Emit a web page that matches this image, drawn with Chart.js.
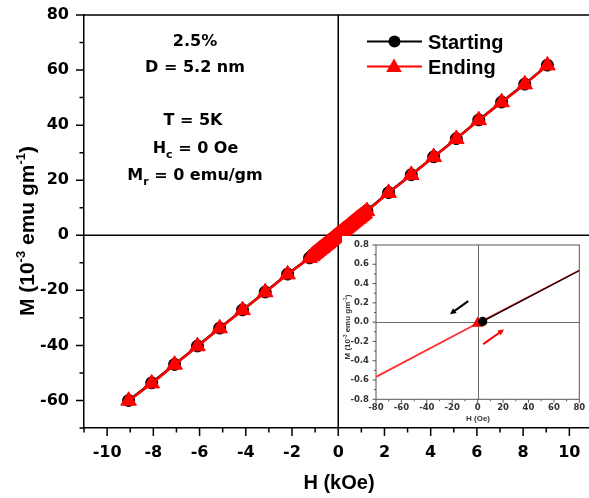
<!DOCTYPE html>
<html>
<head>
<meta charset="utf-8">
<script src="https://cdn.jsdelivr.net/npm/chart.js@4.4.0/dist/chart.umd.min.js"></script>
<style>
  html, body { margin: 0; padding: 0; background: #fff; overflow: hidden; }
  #wrap { position: relative; width: 589px; height: 498px; }
  #main { position: absolute; left: 0; top: 0; }
  #inset { position: absolute; left: 342px; top: 236px; background: #fff; }
</style>
</head>
<body>
<div id="wrap">
  <canvas id="main" width="589" height="498"></canvas>
  <canvas id="inset" width="247" height="190"></canvas>
</div>
<script>
// M-H loop at 5 K: applied field (kOe) and magnetisation (10^-3 emu/g)
const fieldKOe = [-9.07, -8.07, -7.08, -6.09, -5.13, -4.14, -3.16, -2.19, -1.24,
  -1.15, -1.10, -1.05, -1.00, -0.95, -0.90, -0.85, -0.80, -0.75, -0.70, -0.65, -0.60,
  -0.55, -0.50, -0.45, -0.40, -0.35, -0.30, -0.25, -0.20, -0.15, -0.10, -0.05, 0.00,
  0.05, 0.10, 0.15, 0.20, 0.25, 0.30, 0.35, 0.40, 0.45, 0.50, 0.55, 0.60,
  0.65, 0.70, 0.75, 0.80, 0.85, 0.90, 0.95, 1.00, 1.05, 1.10, 1.15,
  1.24, 2.18, 3.16, 4.13, 5.11, 6.08, 7.07, 8.07, 9.05];
const startingM = [-60.0, -53.6, -46.9, -40.2, -33.7, -27.1, -20.6, -14.1, -8.2,
  -7.5, -7.2, -6.8, -6.5, -6.2, -5.8, -5.5, -5.1, -4.8, -4.5, -4.1, -3.8,
  -3.4, -3.1, -2.8, -2.4, -2.1, -1.7, -1.4, -1.0, -0.7, -0.4, 0.0, 0.3,
  0.6, 1.0, 1.3, 1.7, 2.0, 2.3, 2.7, 3.0, 3.4, 3.7, 4.0, 4.4,
  4.7, 5.1, 5.4, 5.8, 6.1, 6.4, 6.8, 7.1, 7.4, 7.8, 8.1,
  8.9, 15.5, 22.0, 28.5, 35.1, 41.9, 48.4, 54.9, 61.8];
const endingM = [-60.1, -53.8, -47.0, -40.3, -33.8, -27.2, -20.7, -14.2, -8.3,
  -7.6, -7.3, -6.9, -6.6, -6.3, -5.9, -5.6, -5.2, -4.9, -4.6, -4.2, -3.9,
  -3.5, -3.2, -2.9, -2.5, -2.2, -1.8, -1.5, -1.1, -0.8, -0.5, -0.1, 0.2,
  0.5, 0.9, 1.2, 1.6, 1.9, 2.2, 2.6, 2.9, 3.3, 3.6, 3.9, 4.3,
  4.6, 5.0, 5.3, 5.7, 6.0, 6.3, 6.7, 7.0, 7.3, 7.7, 8.0,
  8.8, 15.4, 21.9, 28.4, 35.0, 41.8, 48.3, 54.8, 61.7];

// Low-field detail (Oe, 10^-3 emu/g)
const insetStartH = [4, 80];
const insetStartM = [0.008, 0.535];
const insetEndH = [-80, 0, 80];
const insetEndM = [-0.567, -0.012, 0.535];
// sweep-direction arrows: [fromH, fromM, toH, toM]
const arrowDown = [-7.4, 0.218, -21.8, 0.083];
const arrowUp = [4.4, -0.228, 20.7, -0.076];

// axis ticks
const xMajor = [-10, -8, -6, -4, -2, 0, 2, 4, 6, 8, 10];
const xMinor = [-11, -9, -7, -5, -3, -1, 1, 3, 5, 7, 9];
const yMajor = [-60, -40, -20, 0, 20, 40, 60, 80];
const yMinor = [-70, -50, -30, -10, 10, 30, 50, 70];
const insetXMajor = [-80, -60, -40, -20, 0, 20, 40, 60, 80];
const insetXMinor = [-70, -50, -30, -10, 10, 30, 50, 70];
const insetYMajor = [-0.8, -0.6, -0.4, -0.2, 0, 0.2, 0.4, 0.6, 0.8];
const insetYMinor = [-0.7, -0.5, -0.3, -0.1, 0.1, 0.3, 0.5, 0.7];

const seriesNames = ['Starting', 'Ending'];
const sampleNotes = ['2.5%', 'D = 5.2 nm'];

const toPoints = (xs, ys) => xs.map((x, i) => ({ x, y: ys[i] }));

const ARIAL = '"Liberation Sans", Arial, sans-serif';
const WIDE = '"DejaVu Sans", sans-serif';

// scale hooks: fixed tick list, fixed box size, no label overhang padding
function fixedTicks(values) {
  return s => { s.ticks = values.map(v => ({ value: v })); };
}
function fixedSize(size) {
  return s => {
    if (s.isHorizontal()) s.height = size; else s.width = size;
    s.paddingLeft = 0; s.paddingRight = 0; s.paddingTop = 0; s.paddingBottom = 0;
  };
}

function drawTickMarks(ctx, scale, values, len, color, width) {
  ctx.save();
  ctx.strokeStyle = color;
  ctx.lineWidth = width;
  ctx.beginPath();
  values.forEach(v => {
    const p = scale.getPixelForValue(v);
    if (scale.isHorizontal()) {
      ctx.moveTo(p, scale.top);
      ctx.lineTo(p, scale.top + len);
    } else {
      ctx.moveTo(scale.right, p);
      ctx.lineTo(scale.right - len, p);
    }
  });
  ctx.stroke();
  ctx.restore();
}

// text made of pieces: [text, size, shift] where shift moves the baseline (negative = up)
function pieceWidth(ctx, pieces, family) {
  let w = 0;
  pieces.forEach(([t, s]) => { ctx.font = 'bold ' + s + 'px ' + family; w += ctx.measureText(t).width; });
  return w;
}
function drawPieces(ctx, pieces, family, x, y) {
  let cx = x;
  pieces.forEach(([t, s, dy]) => {
    ctx.font = 'bold ' + s + 'px ' + family;
    ctx.fillText(t, cx, y + (dy || 0));
    cx += ctx.measureText(t).width;
  });
}
function drawCentered(ctx, pieces, family, cx, y) {
  const w = pieceWidth(ctx, pieces, family);
  drawPieces(ctx, pieces, family, cx - w / 2, y);
}

function triangle(ctx, x, y, r) {
  // same geometry as the library's 'triangle' point style
  ctx.beginPath();
  let rad = 0;
  ctx.moveTo(x + Math.sin(rad) * r, y - Math.cos(rad) * r);
  rad += 2 * Math.PI / 3;
  ctx.lineTo(x + Math.sin(rad) * r, y - Math.cos(rad) * r);
  rad += 2 * Math.PI / 3;
  ctx.lineTo(x + Math.sin(rad) * r, y - Math.cos(rad) * r);
  ctx.closePath();
}

const mainDecor = {
  id: 'mainDecor',
  beforeDatasetsDraw(chart) {
    const { ctx, chartArea: a, scales: { x, y } } = chart;
    ctx.save();
    ctx.strokeStyle = '#000';
    ctx.lineWidth = 1.5;
    ctx.beginPath();
    const x0 = x.getPixelForValue(0), y0 = y.getPixelForValue(0);
    ctx.moveTo(x0, a.top); ctx.lineTo(x0, a.bottom);
    ctx.moveTo(a.left, y0); ctx.lineTo(a.right, y0);
    // top frame
    ctx.moveTo(a.left - 0.75, a.top); ctx.lineTo(a.right, a.top);
    ctx.stroke();
    ctx.restore();
  },
  afterDraw(chart) {
    const { ctx, scales: { x, y } } = chart;
    drawTickMarks(ctx, x, xMajor, 8, '#000', 1.5);
    drawTickMarks(ctx, x, xMinor, 4.5, '#000', 1.5);
    drawTickMarks(ctx, y, yMajor, 8, '#000', 1.5);
    drawTickMarks(ctx, y, yMinor, 4.5, '#000', 1.5);

    ctx.save();
    ctx.fillStyle = '#000';
    ctx.textBaseline = 'alphabetic';
    ctx.textAlign = 'left';

    // axis titles
    drawCentered(ctx, [['H (kOe)', 20]], ARIAL, 339, 488.5);
    ctx.save();
    ctx.translate(33.5, 231);
    ctx.rotate(-Math.PI / 2);
    drawCentered(ctx, [['M (10', 21], ['-3', 13, -9], [' emu gm', 21], ['-1', 13, -9], [')', 21]], ARIAL, 0, 0);
    ctx.restore();

    // sample notes
    drawCentered(ctx, [[sampleNotes[0], 16]], WIDE, 195, 45.5);
    drawCentered(ctx, [[sampleNotes[1], 16]], WIDE, 195, 71.5);
    drawCentered(ctx, [['T = 5K', 16]], WIDE, 193, 125);
    drawCentered(ctx, [['H', 16], ['c', 11, 5], [' = 0 Oe', 16]], WIDE, 195.5, 152.5);
    drawCentered(ctx, [['M', 16], ['r', 11, 5], [' = 0 emu/gm', 16]], WIDE, 195, 180);

    // legend
    const ds = chart.data.datasets;
    const sDs = ds.find(d => d.label === seriesNames[0]);
    const eDs = ds.find(d => d.label === seriesNames[1]);
    ctx.lineWidth = 2;
    ctx.strokeStyle = sDs.borderColor;
    ctx.beginPath(); ctx.moveTo(367, 41.5); ctx.lineTo(422, 41.5); ctx.stroke();
    ctx.fillStyle = sDs.pointBackgroundColor;
    ctx.beginPath(); ctx.arc(394.5, 41.5, sDs.pointRadius, 0, Math.PI * 2); ctx.fill();
    ctx.strokeStyle = eDs.borderColor;
    ctx.beginPath(); ctx.moveTo(367, 66.5); ctx.lineTo(422, 66.5); ctx.stroke();
    ctx.fillStyle = eDs.pointBackgroundColor;
    triangle(ctx, 394, 67.5, eDs.pointRadius); ctx.fill();
    ctx.fillStyle = '#000';
    ctx.font = 'bold 20px ' + ARIAL;
    ctx.fillText(seriesNames[0], 428, 48.5);
    ctx.fillText(seriesNames[1], 428, 74);
    ctx.restore();
  }
};

new Chart(document.getElementById('main'), {
  type: 'scatter',
  data: {
    datasets: [
      {
        label: seriesNames[1],
        data: toPoints(fieldKOe, endingM),
        showLine: true,
        borderColor: '#ff0000',
        borderWidth: 2.5,
        pointStyle: 'triangle',
        pointRadius: 9,
        pointBackgroundColor: '#ff0000',
        pointBorderColor: '#ff0000',
        pointBorderWidth: 1,
        order: 0
      },
      {
        label: seriesNames[0],
        data: toPoints(fieldKOe, startingM),
        showLine: true,
        borderColor: '#000000',
        borderWidth: 2.5,
        pointStyle: 'circle',
        pointRadius: 6,
        pointBackgroundColor: '#000000',
        pointBorderColor: '#000000',
        pointBorderWidth: 1,
        order: 1
      }
    ]
  },
  options: {
    responsive: false,
    animation: false,
    events: [],
    layout: { autoPadding: false, padding: { top: 15, right: 0, left: 0, bottom: 0 } },
    plugins: { legend: { display: false }, tooltip: { enabled: false } },
    scales: {
      x: {
        type: 'linear', min: -11, max: 10.85,
        afterBuildTicks: fixedTicks(xMajor),
        afterFit: fixedSize(70),
        grid: { display: false, drawTicks: false },
        border: { display: true, color: '#000', width: 1.5 },
        ticks: {
          autoSkip: false, maxRotation: 0, padding: 15, color: '#000',
          font: { family: WIDE, weight: 'bold', size: 16 }
        }
      },
      y: {
        type: 'linear', min: -70, max: 80,
        afterBuildTicks: fixedTicks(yMajor),
        afterFit: fixedSize(84),
        grid: { display: false, drawTicks: false },
        border: { display: true, color: '#000', width: 1.5 },
        ticks: {
          autoSkip: false, padding: 15, color: '#000',
          font: { family: WIDE, weight: 'bold', size: 16 }
        }
      }
    }
  },
  plugins: [mainDecor]
});

function arrow(ctx, xs, ys, spec, color) {
  const x1 = xs.getPixelForValue(spec[0]), y1 = ys.getPixelForValue(spec[1]);
  const x2 = xs.getPixelForValue(spec[2]), y2 = ys.getPixelForValue(spec[3]);
  const ang = Math.atan2(y2 - y1, x2 - x1);
  const hl = 6, hw = 3;
  ctx.save();
  ctx.strokeStyle = color; ctx.fillStyle = color; ctx.lineWidth = 2;
  ctx.beginPath();
  ctx.moveTo(x1, y1);
  ctx.lineTo(x2 - Math.cos(ang) * hl * 0.8, y2 - Math.sin(ang) * hl * 0.8);
  ctx.stroke();
  ctx.beginPath();
  ctx.moveTo(x2, y2);
  ctx.lineTo(x2 - Math.cos(ang) * hl + Math.sin(ang) * hw, y2 - Math.sin(ang) * hl - Math.cos(ang) * hw);
  ctx.lineTo(x2 - Math.cos(ang) * hl - Math.sin(ang) * hw, y2 - Math.sin(ang) * hl + Math.cos(ang) * hw);
  ctx.closePath();
  ctx.fill();
  ctx.restore();
}

const insetDecor = {
  id: 'insetDecor',
  beforeDatasetsDraw(chart) {
    const { ctx, chartArea: a, scales: { x, y } } = chart;
    ctx.save();
    ctx.strokeStyle = '#6a6a6a';
    ctx.lineWidth = 1;
    ctx.beginPath();
    const x0 = Math.round(x.getPixelForValue(0)) + 0.5, y0 = Math.round(y.getPixelForValue(0)) + 0.5;
    ctx.moveTo(x0, a.top); ctx.lineTo(x0, a.bottom);
    ctx.moveTo(a.left, y0); ctx.lineTo(a.right, y0);
    ctx.stroke();
    ctx.strokeStyle = '#555';
    ctx.strokeRect(a.left, a.top, a.right - a.left, a.bottom - a.top);
    ctx.restore();
  },
  afterDraw(chart) {
    const { ctx, scales: { x, y } } = chart;
    drawTickMarks(ctx, x, insetXMajor, 3.5, '#555', 1);
    drawTickMarks(ctx, x, insetXMinor, 2, '#555', 1);
    drawTickMarks(ctx, y, insetYMajor, 3.5, '#555', 1);
    drawTickMarks(ctx, y, insetYMinor, 2, '#555', 1);
    arrow(ctx, x, y, arrowDown, '#000');
    arrow(ctx, x, y, arrowUp, '#ff0000');
    ctx.save();
    ctx.fillStyle = '#333';
    ctx.textBaseline = 'alphabetic';
    drawCentered(ctx, [['H (Oe)', 8]], ARIAL, 136, 185);
    ctx.translate(8, 91);
    ctx.rotate(-Math.PI / 2);
    drawCentered(ctx, [['M (10', 8], ['-3', 5, -3.5], [' emu gm', 8], ['-1', 5, -3.5], [')', 8]], ARIAL, 0, 0);
    ctx.restore();
  }
};

new Chart(document.getElementById('inset'), {
  type: 'scatter',
  data: {
    datasets: [
      {
        label: seriesNames[0],
        data: toPoints(insetStartH, insetStartM),
        showLine: true,
        borderColor: '#000',
        borderWidth: 1.2,
        pointStyle: 'circle',
        pointRadius: [4, 0],
        pointBackgroundColor: '#000',
        pointBorderColor: '#000',
        order: 0
      },
      {
        label: seriesNames[1],
        data: toPoints(insetEndH, insetEndM),
        showLine: true,
        borderColor: '#ff3030',
        borderWidth: 1.8,
        pointStyle: 'triangle',
        pointRadius: [0, 5, 0],
        pointBackgroundColor: '#ff0000',
        pointBorderColor: '#ff0000',
        order: 1
      }
    ]
  },
  options: {
    responsive: false,
    animation: false,
    events: [],
    layout: { autoPadding: false, padding: { top: 9, right: 9.7, left: 0, bottom: 0 } },
    plugins: { legend: { display: false }, tooltip: { enabled: false } },
    scales: {
      x: {
        type: 'linear', min: -80, max: 80,
        afterBuildTicks: fixedTicks(insetXMajor),
        afterFit: fixedSize(26.7),
        grid: { display: false, drawTicks: false },
        border: { display: false },
        ticks: {
          autoSkip: false, maxRotation: 0, padding: 3, color: '#333',
          font: { family: WIDE, weight: 'bold', size: 8.5 }
        }
      },
      y: {
        type: 'linear', min: -0.8, max: 0.8,
        afterBuildTicks: fixedTicks(insetYMajor),
        afterFit: fixedSize(34),
        grid: { display: false, drawTicks: false },
        border: { display: false },
        ticks: {
          autoSkip: false, padding: 7, color: '#333',
          font: { family: WIDE, weight: 'bold', size: 8.5 },
          callback: v => (Math.abs(v) < 1e-9 ? '0.0' : v.toFixed(1))
        }
      }
    }
  },
  plugins: [insetDecor]
});
</script>
</body>
</html>
